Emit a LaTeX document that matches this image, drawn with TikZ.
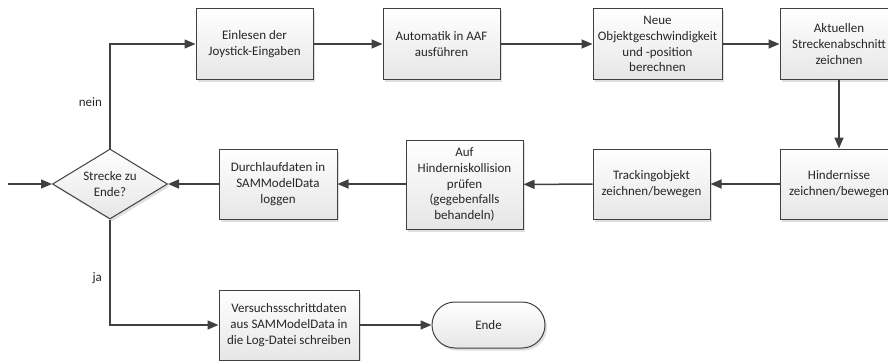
\documentclass[tikz,border=0pt]{standalone}
\usepackage{fontspec}
\setmainfont{Carlito}
\usetikzlibrary{shapes.geometric,shapes.misc,arrows.meta,shadows}
\definecolor{linec}{HTML}{404040}
\definecolor{boxbot}{HTML}{E6E6E6}
\begin{document}
\begin{tikzpicture}[x=1pt,y=-1pt,
  base/.style={draw=linec, line width=1pt, top color=white, bottom color=boxbot,
    drop shadow={shadow xshift=2pt, shadow yshift=-2.5pt, fill=black!25, opacity=0.5},
    align=center, inner sep=2pt, font=\fontsize{13}{15.8}\selectfont, text=black!85},
  proc/.style={base, rectangle, minimum width=117pt, minimum height=70pt},
  deci/.style={base, diamond, aspect=1.64, minimum width=115pt, minimum height=70pt, inner sep=0pt},
  term/.style={base, rounded rectangle, minimum width=117pt, minimum height=46pt},
  conn/.style={draw=linec, line width=1.5pt, -{Triangle[length=11pt,width=9pt]}},
  lbl/.style={font=\fontsize{13}{16}\selectfont, text=black!85}]
\useasboundingbox (0,0) rectangle (888,361);
\node[proc] (ein) at (254.5,44) {Einlesen der\\Joystick-Eingaben};
\node[proc] (aut) at (441.5,44) {Automatik in AAF\\ausführen};
\node[proc, minimum width=129pt] (neu) at (657.5,44) {Neue\\Objektgeschwindigkeit\\und -position\\berechnen};
\node[proc, minimum width=118pt] (akt) at (839,44) {Aktuellen\\Streckenabschnitt\\zeichnen};
\node[proc, minimum width=118pt] (hin) at (839,184) {Hindernisse\\zeichnen/bewegen};
\node[proc] (tra) at (651.5,184) {Trackingobjekt\\zeichnen/bewegen};
\node[proc, minimum height=89pt] (auf) at (464.5,184.5) {Auf\\Hinderniskollision\\prüfen\\(gegebenfalls\\behandeln)};
\node[proc, minimum width=118pt] (dur) at (278,184) {Durchlaufdaten in\\SAMModelData\\loggen};
\node[deci] (dia) at (110,184) {Strecke zu\\Ende?};
\node[proc, minimum width=140pt] (ver) at (289,325) {Versuchssschrittdaten\\aus SAMModelData in\\die Log-Datei schreiben};
\node[term] (end) at (488.5,325) {Ende};
\coordinate (start) at (8,184);
\draw[conn] (start) -- (dia.west);
\draw[conn] (dia.north) |- node[lbl, pos=0.22, left=4pt] {nein} (ein.west);
\draw[conn] (ein) -- (aut);
\draw[conn] (aut) -- (neu);
\draw[conn] (neu) -- (akt);
\draw[conn] (akt) -- (hin);
\draw[conn] (hin) -- (tra);
\draw[conn] (tra) -- (auf);
\draw[conn] (auf.west |- dur) -- (dur);
\draw[conn] (dur) -- (dia.east);
\draw[conn] (dia.south) |- node[lbl, pos=0.28, left=4pt] {ja} (ver.west);
\draw[conn] (ver) -- (end);
\end{tikzpicture}
\end{document}
